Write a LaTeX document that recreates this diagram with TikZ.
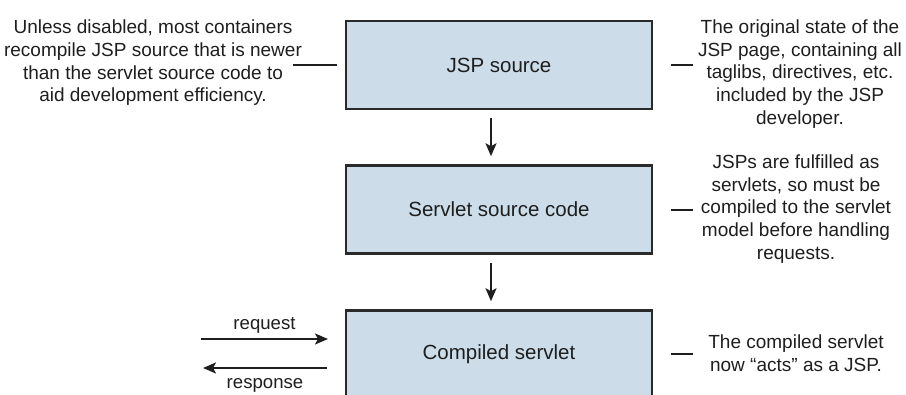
\documentclass[tikz,border=0pt]{standalone}
\usepackage{fontspec}
\setmainfont{Liberation Sans}
\usetikzlibrary{arrows.meta}
\definecolor{boxfill}{HTML}{CCDDE9}
\definecolor{boxline}{HTML}{2A2A2A}
\definecolor{txt}{HTML}{1E1E1E}
\begin{document}
\begin{tikzpicture}[x=1pt,y=-1pt,
  stagebox/.style={draw=boxline,fill=boxfill,line width=2.5pt,minimum width=306pt,minimum height=88pt,inner sep=0pt,text=txt,font=\fontsize{20.5}{24}\selectfont},
  note/.style={align=center,inner sep=0pt,text=txt,font=\fontsize{19}{22.7}\selectfont},
  lbl/.style={inner sep=0pt,text=txt,font=\fontsize{18.6}{22}\selectfont},
  tick/.style={draw=txt,line width=2pt},
  flow/.style={draw=txt,line width=2pt,-{Stealth[length=13pt,width=11pt,inset=3pt]}}]
\useasboundingbox (0,0) rectangle (906,395);
\clip (0,0) rectangle (906,395);
\node[stagebox] (jsp) at (499,65) {JSP source};
\node[stagebox] (srv) at (499,209.5) {Servlet source code};
\node[stagebox] (cmp) at (499,354.5) {Compiled servlet};
\node[note] (n1) at (153,63) {Unless disabled, most containers\\recompile JSP source that is newer\\than the servlet source code to\\aid development efficiency.};
\node[note] (n2) at (800,74) {The original state of the\\JSP page, containing all\\taglibs, directives, etc.\\included by the JSP\\developer.};
\node[note] (n3) at (796,209) {JSPs are fulfilled as\\servlets, so must be\\compiled to the servlet\\model before handling\\requests.};
\node[note] (n4) at (796,353) {The compiled servlet\\now “acts” as a JSP.};
\coordinate (t1) at (293,65);
\coordinate (t2) at (337,65);
\coordinate (r1a) at (671,65);
\coordinate (r1b) at (693,65);
\coordinate (r2a) at (671,210);
\coordinate (r2b) at (693,210);
\coordinate (r3a) at (671,354);
\coordinate (r3b) at (693,354);
\draw[tick] (t1) -- (t2);
\draw[tick] (r1a) -- (r1b);
\draw[tick] (r2a) -- (r2b);
\draw[tick] (r3a) -- (r3b);
\draw[flow,shorten <=8pt,shorten >=8pt] ([xshift=-8pt]jsp.south) -- ([xshift=-8pt]srv.north);
\draw[flow,shorten <=8pt,shorten >=8pt] ([xshift=-8pt]srv.south) -- ([xshift=-8pt]cmp.north);
\coordinate (rqs) at (201,339);
\coordinate (rqe) at (328,339);
\coordinate (rss) at (327,368);
\coordinate (rse) at (203,368);
\draw[flow] (rqs) -- (rqe) node[lbl,midway,above=5pt] (lreq) {request};
\draw[flow] (rss) -- (rse) node[lbl,midway,below=9pt] (lres) {response};
\end{tikzpicture}
\end{document}
